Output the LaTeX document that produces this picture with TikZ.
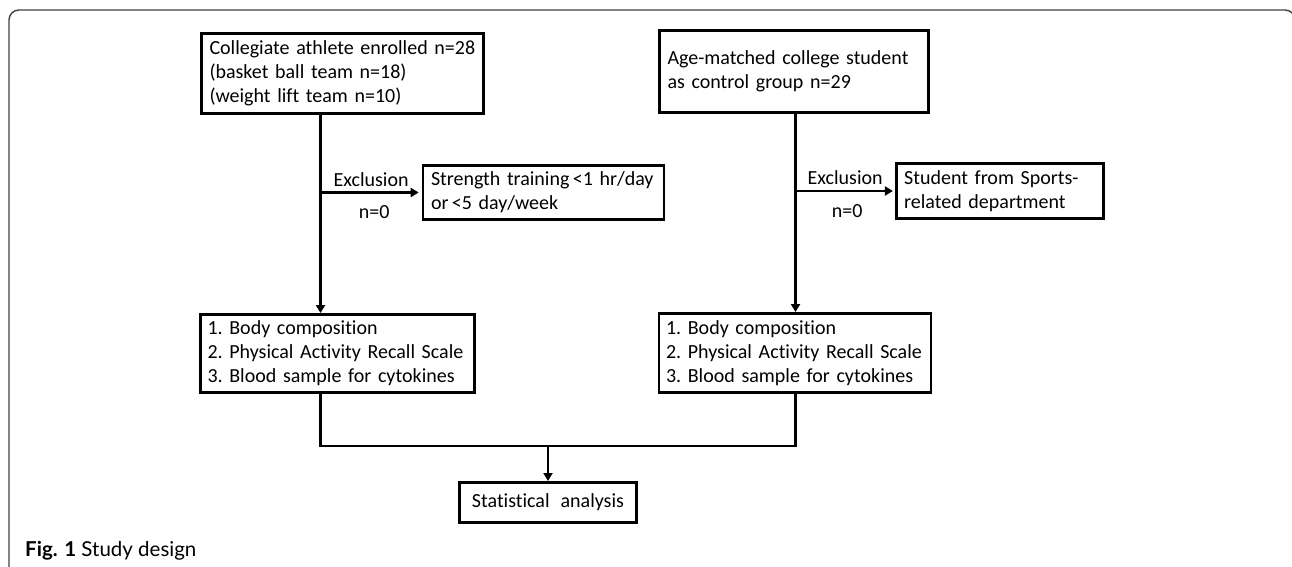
\documentclass[tikz,border=0pt]{standalone}
\usepackage{fontspec}
\setmainfont{Carlito}[Ligatures=NoCommon]
\newfontfamily\capfont{Lato}
\usetikzlibrary{arrows.meta}
\begin{document}
\begin{tikzpicture}[x=1pt,y=-1pt,
  box/.style={draw, line width=2.6pt, inner xsep=8pt, inner ysep=0pt, align=left,
    font=\fontsize{20}{24}\selectfont, anchor=center},
  conn/.style={line width=2.3pt},
  arr/.style={conn, -{Triangle[length=8pt,width=9pt]}},
  lbl/.style={font=\fontsize{20}{24}\selectfont, inner sep=0pt}]
\useasboundingbox (0,0) rectangle (1292,567);
\draw[black!75, line width=1.4pt, rounded corners=10pt] (9,600) -- (9,10) -- (1295,10) -- (1295,120);

\node[box, text width=266pt, minimum height=80.4pt] (A) at (342.5,73.5)
  {Collegiate athlete enrolled n=28\\(basket ball team n=18)\\(weight lift team n=10)};
\node[box, text width=225pt, minimum height=54.4pt] (B) at (543.5,192.5)
  {Strength training\,<1 hr/day\\or\,<5 day/week};
\node[box, text width=253pt, minimum height=82.4pt] (C) at (794,71.5)
  {Age-matched college student\\as control group n=29};
\node[box, text width=191pt, minimum height=55.4pt] (E) at (999.7,191)
  {Student from Sports-\\related department};
\node[box, text width=260pt, inner xsep=7pt, minimum height=78.4pt] (D1) at (337.5,353.5)
  {1.\ Body composition\\2.\ Physical Activity Recall Scale\\3.\ Blood sample for cytokines};
\node[box, text width=258pt, inner xsep=7pt, minimum height=79.4pt] (D2) at (795,353)
  {1.\ Body composition\\2.\ Physical Activity Recall Scale\\3.\ Blood sample for cytokines};
\node[box, align=center, text width=165pt, inner xsep=6pt, minimum height=40.4pt] (F) at (548,502.5)
  {\mbox{Statistical\hspace{11pt}analysis}};

\coordinate (xL) at (320.5,0);
\coordinate (xR) at (795.5,0);
\coordinate (J) at (0,446);

\draw[arr] (A.south -| xL) -- (D1.north -| xL);
\draw[arr] (C.south -| xR) -- (D2.north -| xR);
\draw[arr, shorten >=3pt] (xL |- B.west) -- node[lbl, above=5pt]{Exclusion} node[lbl, below=12pt, xshift=3pt]{n=0} (B.west);
\draw[arr, shorten >=2pt] (xR |- E.west) -- node[lbl, above=5pt]{Exclusion} node[lbl, below=12pt, xshift=2pt]{n=0} (E.west);
\draw[conn] (D1.south -| xL) |- (xR |- J) -- (D2.south -| xR);
\draw[arr] (F.north |- J) -- (F.north);

\node[anchor=base west, font=\capfont\fontsize{20.5}{24}\selectfont, inner sep=0pt] (cap) at (25,556)
  {\textbf{Fig. 1} Study design};
\end{tikzpicture}
\end{document}
